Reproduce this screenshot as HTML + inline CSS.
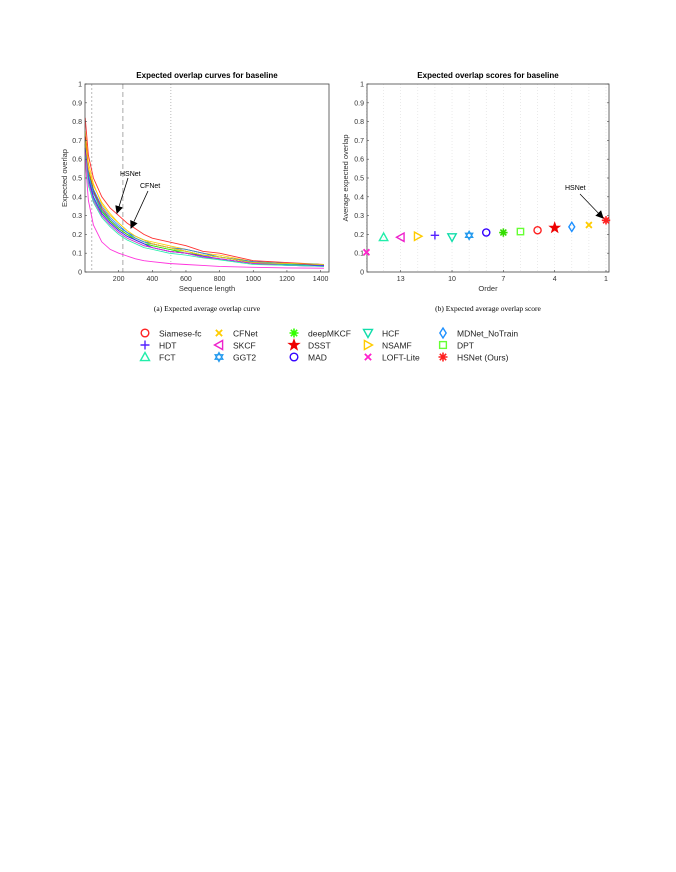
<!DOCTYPE html>
<html><head><meta charset="utf-8"><style>
body{margin:0;background:#fff;}
svg{display:block;font-family:"Liberation Sans",Arial,sans-serif;}
.cap{font-family:"Liberation Serif",serif;}
</style></head><body>
<svg id="svg" width="676" height="872" viewBox="0 0 676 872">
<defs><marker id="ah" markerWidth="8" markerHeight="8" refX="7" refY="4" orient="auto" markerUnits="userSpaceOnUse"><path d="M0,0 L8,4 L0,8 z" fill="#000"/></marker></defs>
<g id="left"></g>
<g id="right"></g>
<g id="legend"></g>
</svg>
<script>
const NS="http://www.w3.org/2000/svg";
function el(p,t,a,txt){const e=document.createElementNS(NS,t);for(const k in a)e.setAttribute(k,a[k]);if(txt!==undefined)e.textContent=txt;p.appendChild(e);return e;}

// ---- Left chart data ----
const seqLengths=[1,20,50,100,150,200,250,300,350,400,500,600,700,800,1000,1200,1420];
const trackerNames=["HSNet","CFNet","Siamese-fc","MDNet_NoTrain","DSST","DPT","deepMKCF","MAD","GGT2","HCF","HDT","NSAMF","SKCF","FCT","LOFT-Lite"];
const trackerColors=["#ff3030","#ffcc00","#ff2020","#1e90ff","#e00000","#66ff33","#33dd00","#3300ff","#2299ee","#11ddaa","#4422ff","#ffcc00","#ee22cc","#22eeaa","#ff33dd"];
const curveValues=[
[0.82,0.62,0.50,0.40,0.34,0.30,0.26,0.23,0.20,0.18,0.16,0.14,0.11,0.10,0.06,0.05,0.04],
[0.75,0.58,0.47,0.36,0.30,0.26,0.22,0.19,0.17,0.16,0.14,0.12,0.10,0.09,0.055,0.045,0.04],
[0.72,0.55,0.44,0.34,0.28,0.24,0.21,0.18,0.16,0.15,0.13,0.11,0.09,0.08,0.05,0.045,0.04],
[0.70,0.54,0.44,0.35,0.29,0.25,0.21,0.19,0.17,0.15,0.13,0.11,0.09,0.08,0.055,0.045,0.04],
[0.72,0.54,0.43,0.33,0.27,0.23,0.20,0.18,0.16,0.15,0.13,0.12,0.10,0.08,0.055,0.045,0.035],
[0.70,0.53,0.42,0.33,0.27,0.23,0.20,0.18,0.16,0.14,0.12,0.11,0.09,0.08,0.05,0.045,0.04],
[0.68,0.52,0.42,0.32,0.27,0.23,0.20,0.17,0.15,0.14,0.12,0.10,0.09,0.08,0.05,0.045,0.04],
[0.66,0.50,0.40,0.31,0.26,0.22,0.19,0.17,0.15,0.13,0.11,0.10,0.08,0.07,0.045,0.04,0.035],
[0.68,0.52,0.42,0.33,0.28,0.24,0.21,0.18,0.16,0.15,0.13,0.12,0.10,0.08,0.055,0.045,0.04],
[0.65,0.49,0.39,0.30,0.25,0.21,0.18,0.16,0.14,0.13,0.11,0.10,0.08,0.07,0.045,0.04,0.03],
[0.66,0.50,0.40,0.31,0.26,0.22,0.19,0.17,0.15,0.13,0.11,0.10,0.085,0.07,0.045,0.035,0.03],
[0.70,0.55,0.46,0.37,0.31,0.26,0.22,0.19,0.17,0.15,0.13,0.11,0.09,0.08,0.05,0.045,0.04],
[0.64,0.48,0.38,0.30,0.25,0.21,0.18,0.16,0.14,0.13,0.11,0.10,0.08,0.07,0.045,0.035,0.03],
[0.62,0.46,0.37,0.29,0.24,0.20,0.17,0.15,0.13,0.12,0.10,0.09,0.075,0.065,0.04,0.035,0.03],
[0.60,0.38,0.25,0.16,0.12,0.10,0.085,0.07,0.06,0.055,0.045,0.04,0.035,0.03,0.025,0.022,0.02]];
const leftXTicks=[200,400,600,800,1000,1200,1400];
const leftYTicks=[0,0.1,0.2,0.3,0.4,0.5,0.6,0.7,0.8,0.9,1];

const L={x0:85,x1:329,y0:272,y1:84,xmax:1450};
const lx=v=>L.x0+v/L.xmax*(L.x1-L.x0);
const ly=v=>L.y0-v*(L.y0-L.y1);
const g=document.getElementById('left');
let t=el(g,'text',{x:207,y:78,'font-size':8,'font-weight':'bold','text-anchor':'middle'},'Expected overlap curves for baseline');


[[40,'2,2','#bbb'],[225,'5,3','#aaa'],[510,'1,2','#bbb']].forEach(d=>{
 const v=el(g,'line',{x1:lx(d[0]),x2:lx(d[0]),y1:L.y1,y2:L.y0,stroke:d[2],'stroke-width':1,'stroke-dasharray':d[1]});
 
 
});
curveValues.forEach((vals,i)=>{
 let d='';
 vals.forEach((v,j)=>{const X=lx(seqLengths[j]),Y=ly(v);d+=(j?'L':'M')+X.toFixed(1)+','+Y.toFixed(1);});
 const p=el(g,'path',{d:d,fill:'none',stroke:trackerColors[i],'stroke-width':i==0||i==14?0.9:0.8});
 
 
});
let fr=el(g,'rect',{x:L.x0,y:L.y1,width:L.x1-L.x0,height:L.y0-L.y1,fill:'none',stroke:'#444','stroke-width':0.8});


leftXTicks.forEach(v=>{
 el(g,'line',{x1:lx(v),x2:lx(v),y1:L.y0,y2:L.y0-2,stroke:'#444','stroke-width':0.6});
 const tt=el(g,'text',{x:lx(v),y:281,'font-size':7,'text-anchor':'middle',fill:'#333'},String(v));
 
 
});
leftYTicks.forEach(v=>{
 el(g,'line',{x1:L.x0,x2:L.x0+2,y1:ly(v),y2:ly(v),stroke:'#444','stroke-width':0.6});
 const tt=el(g,'text',{x:L.x0-3,y:ly(v)+2.5,'font-size':7,'text-anchor':'end',fill:'#333'},String(v));
 
 
});
t=el(g,'text',{x:207,y:291,'font-size':7.5,'text-anchor':'middle',fill:'#333'},'Sequence length');


t=el(g,'text',{x:67,y:178,'font-size':7.5,'text-anchor':'middle',fill:'#333',transform:'rotate(-90 67 178)'},'Expected overlap');


t=el(g,'text',{x:120,y:176,'font-size':7},'HSNet');


el(g,'line',{x1:128,y1:178,x2:117,y2:213,stroke:'#000','stroke-width':0.8,'marker-end':'url(#ah)'});
t=el(g,'text',{x:140,y:188,'font-size':7},'CFNet');


el(g,'line',{x1:148,y1:191,x2:131,y2:228,stroke:'#000','stroke-width':0.8,'marker-end':'url(#ah)'});
t=el(g,'text',{x:207,y:311,'font-size':7.5,'text-anchor':'middle',class:'cap'},'(a) Expected average overlap curve');



// ---- Right chart data ----
const scoreNames=["LOFT-Lite","FCT","SKCF","NSAMF","HDT","HCF","GGT2","MAD","deepMKCF","DPT","Siamese-fc","DSST","MDNet_NoTrain","CFNet","HSNet"];
const scoreOrders=[15,14,13,12,11,10,9,8,7,6,5,4,3,2,1];
const scoreValues=[0.105,0.185,0.185,0.19,0.195,0.185,0.195,0.21,0.21,0.215,0.222,0.235,0.24,0.25,0.275];
const scoreMarkers=["x","tri-up","tri-left","tri-right","plus","tri-down","hexagram","circle","asterisk-green","square","circle","star","diamond","x","asterisk"];
const scoreColors=["#ff22cc","#22eeaa","#ee22cc","#ffcc00","#5522ff","#11ddaa","#2299ee","#3300ff","#33dd00","#66ff33","#ff2020","#ee0000","#1e90ff","#ffcc00","#ff2020"];
const rightXTicks=[13,10,7,4,1];
const rightYTicks=[0,0.1,0.2,0.3,0.4,0.5,0.6,0.7,0.8,0.9,1];

const R={x0:367,x1:609,y0:272,y1:84};
const rx=o=>400.7+(13-o)*(606-400.7)/12;
const ry=v=>R.y0-v*(R.y0-R.y1);

function marker(p,type,cx,cy,col,s){
 const a={fill:'none',stroke:col,'stroke-width':1.4};
 let e;
 switch(type){
 case 'circle': e=el(p,'circle',Object.assign({cx:cx,cy:cy,r:s*0.85},a));break;
 case 'square': e=el(p,'rect',Object.assign({x:cx-s*0.75,y:cy-s*0.75,width:s*1.5,height:s*1.5},a));break;
 case 'diamond': e=el(p,'path',Object.assign({d:`M${cx},${cy-s*1.1}L${cx+s*0.7},${cy}L${cx},${cy+s*1.1}L${cx-s*0.7},${cy}Z`},a));break;
 case 'tri-up': e=el(p,'path',Object.assign({d:`M${cx},${cy-s}L${cx+s},${cy+s*0.8}L${cx-s},${cy+s*0.8}Z`},a));break;
 case 'tri-down': e=el(p,'path',Object.assign({d:`M${cx},${cy+s}L${cx+s},${cy-s*0.8}L${cx-s},${cy-s*0.8}Z`},a));break;
 case 'tri-left': e=el(p,'path',Object.assign({d:`M${cx-s},${cy}L${cx+s*0.8},${cy-s}L${cx+s*0.8},${cy+s}Z`},a));break;
 case 'tri-right': e=el(p,'path',Object.assign({d:`M${cx+s},${cy}L${cx-s*0.8},${cy-s}L${cx-s*0.8},${cy+s}Z`},a));break;
 case 'plus': e=el(p,'path',Object.assign({d:`M${cx-s},${cy}H${cx+s}M${cx},${cy-s}V${cy+s}`},a));break;
 case 'x': e=el(p,'path',Object.assign({d:`M${cx-s*0.7},${cy-s*0.7}L${cx+s*0.7},${cy+s*0.7}M${cx+s*0.7},${cy-s*0.7}L${cx-s*0.7},${cy+s*0.7}`},a,{'stroke-width':1.8}));break;
 case 'star': {let d='';for(let k=0;k<10;k++){const r=k%2?s*0.45:s*1.1,ang=-Math.PI/2+k*Math.PI/5;d+=(k?'L':'M')+(cx+r*Math.cos(ang)).toFixed(1)+','+(cy+r*Math.sin(ang)).toFixed(1);}e=el(p,'path',Object.assign({d:d+'Z'},a,{fill:col}));break;}
 case 'hexagram': e=el(p,'path',Object.assign({d:`M${cx},${cy-s}L${cx+s*0.87},${cy+s*0.5}L${cx-s*0.87},${cy+s*0.5}ZM${cx},${cy+s}L${cx+s*0.87},${cy-s*0.5}L${cx-s*0.87},${cy-s*0.5}Z`},a,{'stroke-width':1.2}));break;
 default: {let d='';for(let k=0;k<4;k++){const ang=k*Math.PI/4;d+=`M${cx-s*Math.cos(ang)},${cy-s*Math.sin(ang)}L${cx+s*Math.cos(ang)},${cy+s*Math.sin(ang)}`;}e=el(p,'path',Object.assign({d:d},a,{'stroke-width':1.6}));}
 }
 return e;
}

const h=document.getElementById('right');
t=el(h,'text',{x:488,y:78,'font-size':8,'font-weight':'bold','text-anchor':'middle'},'Expected overlap scores for baseline');


scoreOrders.forEach(o=>{
 const v=el(h,'line',{x1:rx(o),x2:rx(o),y1:R.y1,y2:R.y0,stroke:'#ddd','stroke-width':0.6,'stroke-dasharray':'1,2'});
 
 
});
fr=el(h,'rect',{x:R.x0,y:R.y1,width:R.x1-R.x0,height:R.y0-R.y1,fill:'none',stroke:'#444','stroke-width':0.8});


rightXTicks.forEach(o=>{
 el(h,'line',{x1:rx(o),x2:rx(o),y1:R.y0,y2:R.y0-2,stroke:'#444','stroke-width':0.6});
 const tt=el(h,'text',{x:rx(o),y:281,'font-size':7,'text-anchor':'middle',fill:'#333'},String(o));
 
 
});
rightYTicks.forEach(v=>{
 el(h,'line',{x1:R.x0,x2:R.x0+2,y1:ry(v),y2:ry(v),stroke:'#444','stroke-width':0.6});
 el(h,'line',{x1:R.x1,x2:R.x1-2,y1:ry(v),y2:ry(v),stroke:'#444','stroke-width':0.6});
 const tt=el(h,'text',{x:R.x0-3,y:ry(v)+2.5,'font-size':7,'text-anchor':'end',fill:'#333'},String(v));
 
 
});
t=el(h,'text',{x:488,y:291,'font-size':7.5,'text-anchor':'middle',fill:'#333'},'Order');


t=el(h,'text',{x:348,y:178,'font-size':7.5,'text-anchor':'middle',fill:'#333',transform:'rotate(-90 348 178)'},'Average expected overlap');


scoreValues.forEach((v,i)=>{
 const m=marker(h,scoreMarkers[i],rx(scoreOrders[i]),ry(v),scoreColors[i],4.2);
 
 
});
t=el(h,'text',{x:565,y:190,'font-size':7},'HSNet');


el(h,'line',{x1:580,y1:194,x2:603,y2:218,stroke:'#000','stroke-width':0.7,'marker-end':'url(#ah)'});
t=el(h,'text',{x:488,y:311,'font-size':7.5,'text-anchor':'middle',class:'cap'},'(b) Expected average overlap score');



// ---- Legend ----
const legendNames=["Siamese-fc","HDT","FCT","CFNet","SKCF","GGT2","deepMKCF","DSST","MAD","HCF","NSAMF","LOFT-Lite","MDNet_NoTrain","DPT","HSNet (Ours)"];
const legendMarkers=["circle","plus","tri-up","x","tri-left","hexagram","asterisk-green","star","circle","tri-down","tri-right","x","diamond","square","asterisk"];
const legendColors=["#ff2020","#5522ff","#22eeaa","#ffcc00","#ee22cc","#2299ee","#33ff00","#ee0000","#3300ff","#11ddaa","#ffcc00","#ff22cc","#1e90ff","#66ff33","#ff2020"];
const lg=document.getElementById('legend');
const colX=[145,219,294,368,443],rowY=[333,345,357];
legendNames.forEach((n,i)=>{
 const c=Math.floor(i/3),r=i%3;
 const gg=el(lg,'g',{});
 
 
 marker(gg,legendMarkers[i],colX[c],rowY[r],legendColors[i],4.5);
 el(gg,'text',{x:colX[c]+14,y:rowY[r]+3.5,'font-size':8.5,fill:'#222'},n);
});
</script>
</body></html>
